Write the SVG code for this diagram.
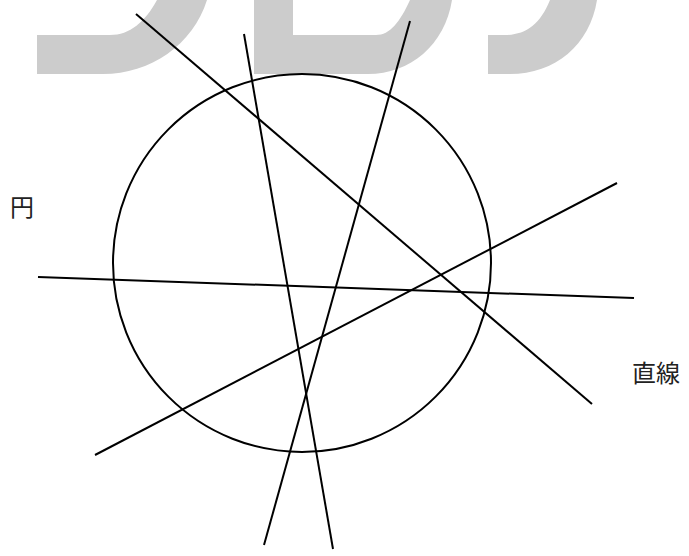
<svg xmlns="http://www.w3.org/2000/svg" width="689" height="556" viewBox="0 0 689 556">
<style>
.bg{fill:#cccccc;stroke:none}
.ln{stroke:#000;stroke-width:2;fill:none}
.lbl{font-family:"Noto Sans CJK JP","Noto Sans CJK SC",sans-serif;font-size:24px;fill:#222}
</style>
<rect width="689" height="556" fill="#fff"/>
<g id="logo">
<path class="bg" d="M37 35 L37 74 L103 74 C150 74 193 45 207 0 L157 0 C145 22 130 35 110 35 Z"/>
<path class="bg" d="M254 0 L254 74 L368 74 C410 74 445 45 452 0 L410 0 C400 22 390 35 376 35 L293 35 L293 0 Z"/>
<path class="bg" d="M488 35 L488 74 L510 74 C555 74 590 45 597 0 L550 0 C540 25 525 35 505 35 Z"/>
</g>
<g id="circle">
<circle class="ln" cx="302" cy="263" r="189"/>
</g>
<g id="connectors">
<line class="ln" x1="136" y1="14" x2="592" y2="404"/>
<line class="ln" x1="244" y1="34" x2="333" y2="549"/>
<line class="ln" x1="410" y1="21" x2="264" y2="545"/>
<line class="ln" x1="38" y1="277" x2="634" y2="298"/>
<line class="ln" x1="95" y1="455" x2="617" y2="183"/>
</g>
<g id="label-en">
<text class="lbl" x="10" y="216">円</text>
</g>
<g id="label-chokusen">
<text class="lbl" x="632" y="382">直線</text>
</g>
</svg>
